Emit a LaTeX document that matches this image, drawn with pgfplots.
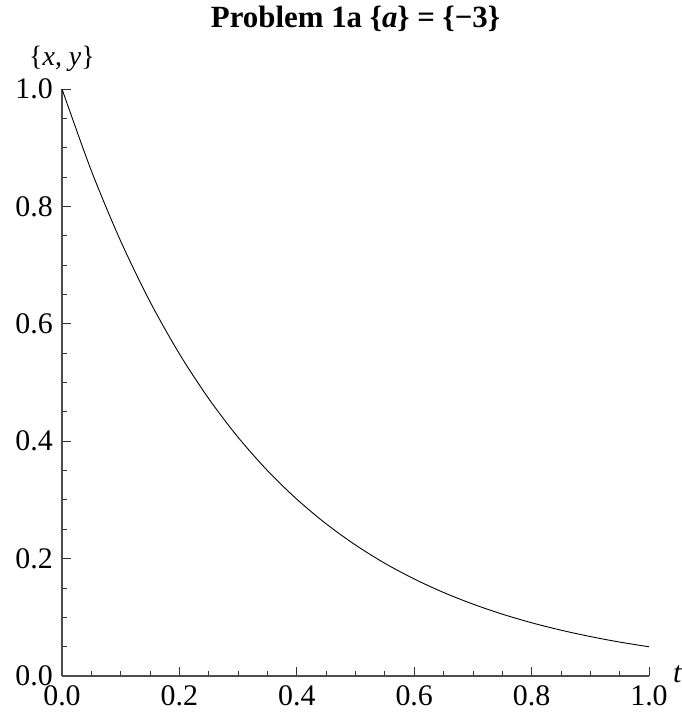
\documentclass[border=0pt]{standalone}
\usepackage{pgfplots}
\pgfplotsset{compat=1.18}
\usepackage{fontspec}
\setmainfont{Liberation Serif}
\begin{document}
\begin{tikzpicture}
\begin{axis}[
  scale only axis,
  width=587bp, height=587bp,
  xmin=0, xmax=1, ymin=0, ymax=1,
  axis lines*=left,
  axis line style={draw=black!70, line width=1.3pt},
  tick align=inside,
  xtick={0,0.2,0.4,0.6,0.8,1},
  ytick={0,0.2,0.4,0.6,0.8,1},
  xticklabels={0.0,0.2,0.4,0.6,0.8,1.0},
  yticklabels={0.0,0.2,0.4,0.6,0.8,1.0},
  minor tick num=3,
  major tick length=9bp, minor tick length=5bp,
  every tick/.style={black!80, line width=0.8pt},
  ticklabel style={font=\fontsize{30}{32}\selectfont},
  xticklabel style={inner sep=0pt, yshift=-9bp},
  yticklabel style={inner sep=0pt, xshift=-9bp},
  title={\textbf{Problem 1a \{\textit{a}\} = \{−3\}}},
  title style={font=\fontsize{31}{33}\selectfont, at={(rel axis cs:0.5,1)}, anchor=base, inner sep=0pt, yshift=56bp},
  xlabel={\textit{t}},
  xlabel style={font=\fontsize{30}{32}\selectfont, at={(rel axis cs:1,0)}, anchor=west, inner sep=0pt, xshift=24bp, yshift=2bp},
  ylabel={\{\textit{x}, \textit{y}\}},
  ylabel style={font=\fontsize{28}{30}\selectfont, at={(rel axis cs:0,1)}, anchor=base, rotate=-90, inner sep=0pt, yshift=23bp},
  clip=false,
]
\addplot[black, line width=0.9pt, smooth] coordinates {
(0,1) (0.05,0.8607) (0.1,0.7408) (0.15,0.6376) (0.2,0.5488) (0.25,0.4724)
(0.3,0.4066) (0.35,0.3499) (0.4,0.3012) (0.45,0.2592) (0.5,0.2231)
(0.55,0.1920) (0.6,0.1653) (0.65,0.1423) (0.7,0.1225) (0.75,0.1054)
(0.8,0.0907) (0.85,0.0781) (0.9,0.0672) (0.95,0.0578) (1,0.0498)
};
\end{axis}
\pgfresetboundingbox
\path[use as bounding box] ([shift={(-62bp,-37bp)}]current axis.south west) rectangle ([shift={(33bp,89bp)}]current axis.north east);
\end{tikzpicture}
\end{document}
